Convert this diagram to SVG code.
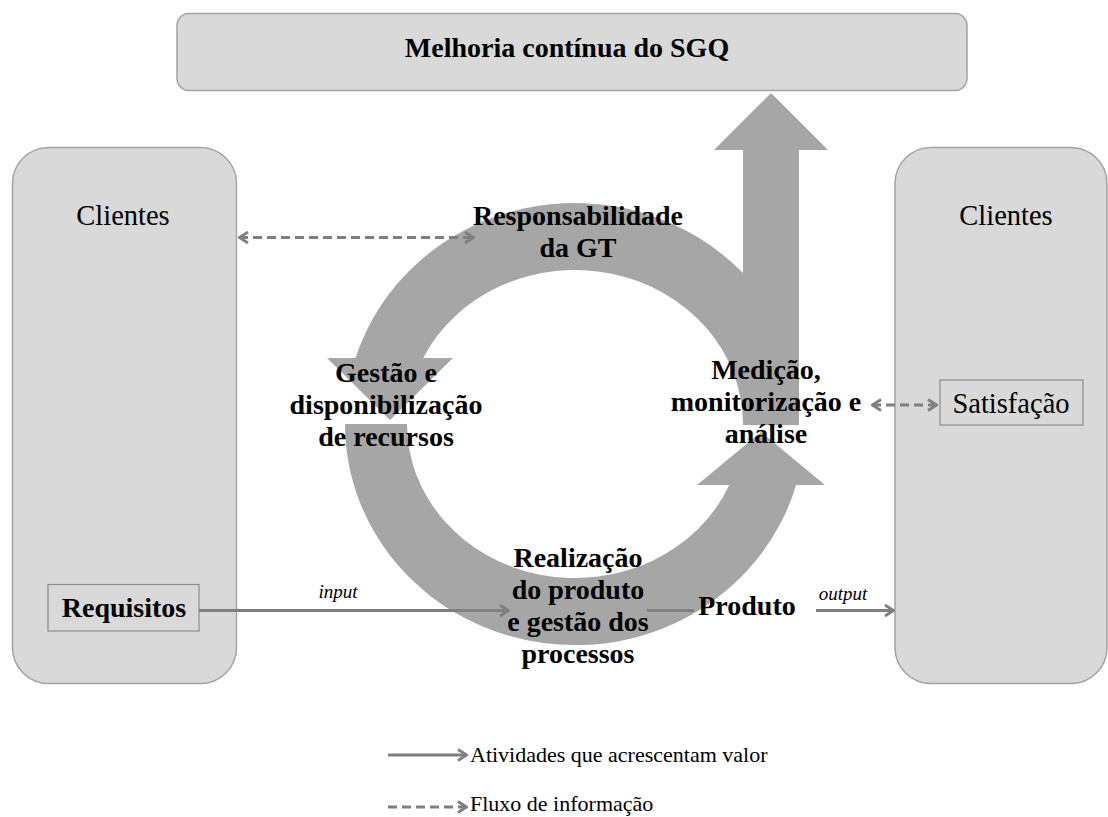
<svg xmlns="http://www.w3.org/2000/svg" width="1108" height="817" viewBox="0 0 1108 817">
  <defs>
    <style>
      .panel { fill: #d9d9d9; stroke: #a3a3a3; stroke-width: 1.5; }
      .tag { fill: #d9d9d9; stroke: #8c8c8c; stroke-width: 1.2; }
      .cycle { fill: #a6a6a6; }
      .flow { fill: none; stroke: #7f7f7f; stroke-width: 3; }
      .info { fill: none; stroke: #7f7f7f; stroke-width: 3; stroke-dasharray: 9 5; }
      .b { font-family: "Liberation Serif", "Times New Roman", serif; font-weight: bold; font-size: 28px; fill: #000; text-anchor: middle; }
      .r { font-family: "Liberation Serif", "Times New Roman", serif; font-size: 28.5px; fill: #000; text-anchor: middle; }
      .it { font-family: "Liberation Serif", "Times New Roman", serif; font-style: italic; font-size: 19px; fill: #000; text-anchor: middle; }
      .lg { font-family: "Liberation Serif", "Times New Roman", serif; font-size: 22px; fill: #000; }
    </style>
    <marker id="chev" viewBox="0 0 12 14" refX="11" refY="7" markerWidth="12" markerHeight="14" markerUnits="userSpaceOnUse" orient="auto-start-reverse">
      <path d="M2,1.5 L10.5,7 L2,12.5" fill="none" stroke="#7f7f7f" stroke-width="2.8"/>
    </marker>
  </defs>

  <!-- top banner -->
  <g id="melhoria">
    <rect class="panel" x="177" y="13.5" width="790" height="77" rx="12"/>
    <text class="b" x="567" y="57">Melhoria contínua do SGQ</text>
  </g>

  <!-- customer panels -->
  <g id="clientes-entrada">
    <rect class="panel" x="12.5" y="147.5" width="224" height="536" rx="36"/>
    <text class="r" x="123" y="225">Clientes</text>
  </g>
  <g id="clientes-saida">
    <rect class="panel" x="895" y="147.5" width="212" height="536" rx="36"/>
    <text class="r" x="1006" y="225">Clientes</text>
  </g>
  <g id="requisitos">
    <rect class="tag" x="48" y="584.5" width="151" height="46.5"/>
    <text class="b" x="124" y="617">Requisitos</text>
  </g>
  <g id="satisfacao">
    <rect class="tag" x="940" y="380" width="143" height="45"/>
    <text class="r" x="1011" y="413">Satisfação</text>
  </g>

  <!-- process cycle -->
  <g id="ciclo">
    <!-- upper arc ending in the downward head on the left -->
    <path class="cycle" d="M743,273.1 A230,221 0 0 0 355.5,358 L327,358 L390,420 L453,358 L423.2,358 A168,154 0 0 1 743,424 L760,424 L760,273 Z"/>
    <!-- lower arc ending in the upward head on the right -->
    <path class="cycle" d="M345,424 A230,221 0 0 0 796.1,485 L825,485 L761,432 L697,485 L729.3,485 A168,154 0 0 1 407,424 Z"/>
    <!-- improvement arrow rising to the banner -->
    <path class="cycle" d="M743,425 L743,150 L714,150 L771,93 L828,150 L799,150 L799,425 Z"/>
  </g>

  <!-- connectors -->
  <g id="conectores">
    <line class="info" x1="239" y1="237.5" x2="474" y2="237.5" marker-start="url(#chev)" marker-end="url(#chev)"/>
    <line class="info" x1="872" y1="405" x2="937" y2="405" marker-start="url(#chev)" marker-end="url(#chev)"/>
    <line class="flow" x1="199" y1="610.5" x2="509" y2="610.5" marker-end="url(#chev)"/>
    <line class="flow" x1="647" y1="610.5" x2="694" y2="610.5"/>
    <line class="flow" x1="816" y1="610.5" x2="894" y2="610.5" marker-end="url(#chev)"/>
    <!-- legend samples -->
    <line class="flow" x1="388" y1="755" x2="467" y2="755" marker-end="url(#chev)"/>
    <line class="info" x1="388" y1="807" x2="467" y2="807" marker-end="url(#chev)"/>
  </g>

  <!-- stage labels -->
  <g id="responsabilidade">
    <text class="b" x="578" y="225">Responsabilidade</text>
    <text class="b" x="578" y="257">da GT</text>
  </g>
  <g id="recursos">
    <text class="b" x="386" y="382">Gestão e</text>
    <text class="b" x="386" y="414">disponibilização</text>
    <text class="b" x="386" y="446">de recursos</text>
  </g>
  <g id="medicao">
    <text class="b" x="766" y="379">Medição,</text>
    <text class="b" x="766" y="411">monitorização e</text>
    <text class="b" x="766" y="443">análise</text>
  </g>
  <g id="realizacao">
    <text class="b" x="578" y="567">Realização</text>
    <text class="b" x="578" y="599">do produto</text>
    <text class="b" x="578" y="631">e gestão dos</text>
    <text class="b" x="578" y="663">processos</text>
  </g>
  <g id="produto">
    <text class="b" x="747" y="615">Produto</text>
  </g>
  <g id="rotulos">
    <text class="it" x="338" y="598">input</text>
    <text class="it" x="843" y="600">output</text>
  </g>

  <!-- legend -->
  <g id="legenda">
    <text class="lg" x="470" y="762">Atividades que acrescentam valor</text>
    <text class="lg" x="470" y="811">Fluxo de informação</text>
  </g>
</svg>
